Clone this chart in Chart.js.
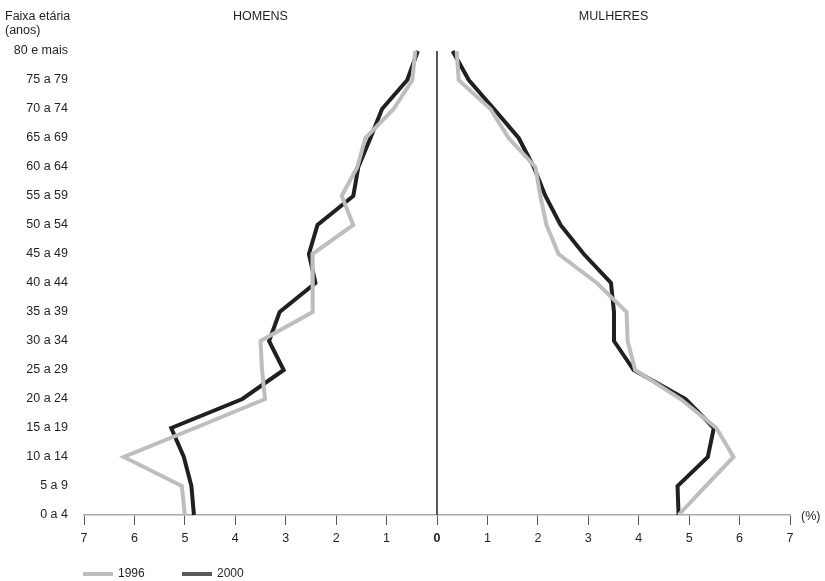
<!DOCTYPE html>
<html>
<head>
<meta charset="utf-8">
<script src="https://cdn.jsdelivr.net/npm/chart.js@4.4.1/dist/chart.umd.min.js"></script>
<style>
  html, body { margin: 0; padding: 0; background: #fff; }
  #wrap { width: 825px; height: 581px; }
</style>
</head>
<body>
<div id="wrap"><canvas id="chart" width="825" height="581"></canvas></div>
<script>
// faixas etárias, de cima para baixo
const faixas = ['80 e mais', '75 a 79', '70 a 74', '65 a 69', '60 a 64', '55 a 59', '50 a 54', '45 a 49',
  '40 a 44', '35 a 39', '30 a 34', '25 a 29', '20 a 24', '15 a 19', '10 a 14', '5 a 9', '0 a 4'];

// percentuais (homens em valor negativo para ficar à esquerda)
const homens1996 = [-0.43, -0.49, -0.86, -1.42, -1.58, -1.89, -1.66, -2.47, -2.46, -2.47, -3.50, -3.47, -3.41, -4.80, -6.21, -5.06, -5.00];
const homens2000 = [-0.38, -0.59, -1.09, -1.32, -1.56, -1.66, -2.37, -2.54, -2.41, -3.12, -3.33, -3.04, -3.86, -5.27, -5.02, -4.87, -4.82];
const mulheres1996 = [0.39, 0.43, 1.06, 1.42, 1.95, 2.05, 2.17, 2.41, 3.17, 3.76, 3.78, 3.93, 4.83, 5.54, 5.88, 5.33, 4.79];
const mulheres2000 = [0.31, 0.63, 1.13, 1.62, 1.92, 2.15, 2.45, 2.91, 3.45, 3.51, 3.51, 3.90, 4.93, 5.49, 5.37, 4.77, 4.79];

const anos = ['1996', '2000'];
const corLinha = ['#bcbec0', '#231f20'];
const corLegenda = ['#bcbec0', '#58595b'];

const txt = '#231f20';
const fonte = '"Liberation Sans", Arial, sans-serif';

// textos fixos, linha do zero e legenda
const extras = {
  id: 'extras',
  afterDraw(chart) {
    const ctx = chart.ctx;
    const area = chart.chartArea;
    const x = chart.scales.x;
    const x0 = x.getPixelForValue(0);

    ctx.save();
    // linha vertical no zero
    ctx.strokeStyle = '#231f20';
    ctx.lineWidth = 1.5;
    ctx.beginPath();
    ctx.moveTo(x0, area.top);
    ctx.lineTo(x0, area.bottom);
    ctx.stroke();

    ctx.fillStyle = txt;
    ctx.font = '12.5px ' + fonte;
    ctx.textBaseline = 'middle';
    ctx.textAlign = 'left';
    ctx.fillText('Faixa etária', 5, 17);
    ctx.fillText('(anos)', 5, 31);

    ctx.textAlign = 'center';
    ctx.fillText('HOMENS', (area.left + x0) / 2, 17);
    ctx.fillText('MULHERES', (x0 + area.right) / 2, 17);

    ctx.textAlign = 'left';
    ctx.fillText('(%)', area.right + 11, area.bottom + 2);

    // legenda
    ctx.font = '12px ' + fonte;
    let lx = area.left - 1;
    const ly = 574;
    anos.forEach((a, i) => {
      ctx.fillStyle = corLegenda[i];
      ctx.fillRect(lx, ly - 2, 30, 4);
      ctx.fillStyle = txt;
      ctx.fillText(a, lx + 35, ly);
      lx += 99;
    });
    ctx.restore();
  }
};

const serie = (data, i) => ({
  label: anos[i],
  data: data,
  borderColor: corLinha[i],
  backgroundColor: corLinha[i],
  borderWidth: 4,
  pointRadius: 0,
  tension: 0,
  fill: false
});

new Chart(document.getElementById('chart'), {
  type: 'line',
  data: {
    labels: faixas,
    datasets: [
      serie(homens1996, 0),
      serie(mulheres1996, 0),
      serie(homens2000, 1),
      serie(mulheres2000, 1)
    ]
  },
  options: {
    indexAxis: 'y',
    responsive: false,
    devicePixelRatio: 1,
    animation: false,
    layout: { padding: { left: 5, top: 51, right: 35, bottom: 29 } },
    plugins: {
      legend: { display: false },
      tooltip: { enabled: false }
    },
    scales: {
      x: {
        type: 'linear',
        min: -7,
        max: 7,
        ticks: {
          stepSize: 1,
          color: txt,
          padding: 6,
          font: (c) => ({
            family: fonte,
            size: 12.5,
            weight: c.tick && c.tick.value === 0 ? 'bold' : 'normal'
          }),
          callback: (v) => Math.abs(v)
        },
        grid: {
          drawOnChartArea: false,
          drawTicks: true,
          tickLength: 10,
          color: '#58595b'
        },
        border: { display: true, color: '#a7a9ac', width: 1.5 }
      },
      y: {
        type: 'category',
        offset: false,
        ticks: {
          color: txt,
          padding: 16,
          autoSkip: false,
          font: { family: fonte, size: 12.5 }
        },
        grid: { display: false, drawTicks: false },
        border: { display: false },
        afterFit: (s) => { s.width = 79; }
      }
    }
  },
  plugins: [extras]
});
</script>
</body>
</html>
